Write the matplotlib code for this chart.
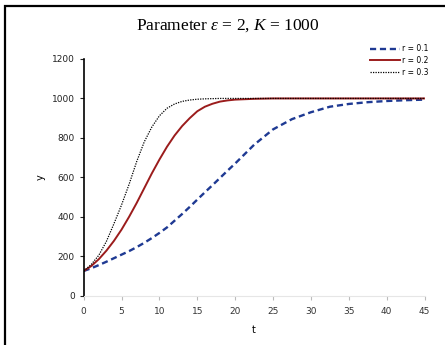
import matplotlib
matplotlib.use("Agg")
import matplotlib.pyplot as plt
from matplotlib.patches import Rectangle

# values
t_vals = [0, 1, 2, 3, 4, 5, 6, 7, 8, 9, 10, 11, 12, 13, 14, 15, 16, 17, 18, 19, 20,
          22.5, 25, 27.5, 30, 32.5, 35, 37.5, 40, 42.5, 45]
y_r01 = [125, 139, 155, 172, 190, 208, 226, 246, 268, 292, 318, 346, 380, 414, 450, 487,
         524, 560, 597, 634, 670, 765, 843, 895, 930, 958, 972, 981, 987, 991, 994]
y_r02 = [125, 150, 185, 228, 278, 335, 400, 470, 545, 620, 690, 755, 812, 860, 900, 935,
         958, 973, 984, 990, 994, 998, 1000, 1000, 1000, 1000, 1000, 1000, 1000, 1000, 1000]
y_r03 = [125, 158, 205, 275, 365, 460, 565, 680, 780, 855, 912, 950, 972, 985, 992, 996,
         998, 999, 1000, 1000, 1000, 1000, 1000, 1000, 1000, 1000, 1000, 1000, 1000, 1000, 1000]
series_labels = ["r = 0.1", "r = 0.2", "r = 0.3"]
x_ticks = [0, 5, 10, 15, 20, 25, 30, 35, 40, 45]
y_ticks = [0, 200, 400, 600, 800, 1000, 1200]

plt.rcParams["mathtext.fontset"] = "custom"
plt.rcParams["mathtext.rm"] = "Liberation Serif"
plt.rcParams["mathtext.it"] = "Liberation Serif:italic"

fig = plt.figure(figsize=(4.45, 3.45), dpi=100)
fig.patch.set_facecolor("white")

# outer frame, cut off on right and bottom like the reference
fig.patches.append(Rectangle((5 / 445, -0.1), 1.2, 1 - 6 / 345 + 0.1,
                             transform=fig.transFigure, fill=False,
                             edgecolor="black", linewidth=1.6))

ax = fig.add_axes([0.188, 0.143, 0.766, 0.686])

ax.plot(t_vals, y_r01, color="#1f3a93", lw=1.7, linestyle=(0, (2.6, 1.6)), label=series_labels[0])
ax.plot(t_vals, y_r02, color="#9b1c1c", lw=1.4, label=series_labels[1])
ax.plot(t_vals, y_r03, color="black", lw=0.9, linestyle=(0, (1, 1)), label=series_labels[2])

ax.set_xlim(0, 45)
ax.set_ylim(0, 1200)
ax.set_xticks(x_ticks)
ax.set_yticks(y_ticks)
ax.tick_params(labelsize=6.5, length=3, width=0.8, colors="#222222")
ax.tick_params(axis="x", colors="#bbbbbb", labelcolor="#333333", pad=5)

for side in ["top", "right"]:
    ax.spines[side].set_visible(False)
ax.spines["bottom"].set_color("#e6e6e6")
ax.spines["left"].set_linewidth(1.2)

ax.set_xlabel("t", fontsize=7, labelpad=7)
ax.set_ylabel("y", fontsize=7, labelpad=4)

fig.text(0.512, 0.926, "Parameter $\\varepsilon$ = 2, $K$ = 1000",
         ha="center", va="center", fontsize=12.5, family="Liberation Serif")

ax.legend(loc="upper right", bbox_to_anchor=(1.02, 1.075), frameon=False,
          fontsize=5.5, handlelength=4, handletextpad=0.2, labelspacing=0.35,
          borderaxespad=0)

fig.savefig("out.png", dpi=100)
